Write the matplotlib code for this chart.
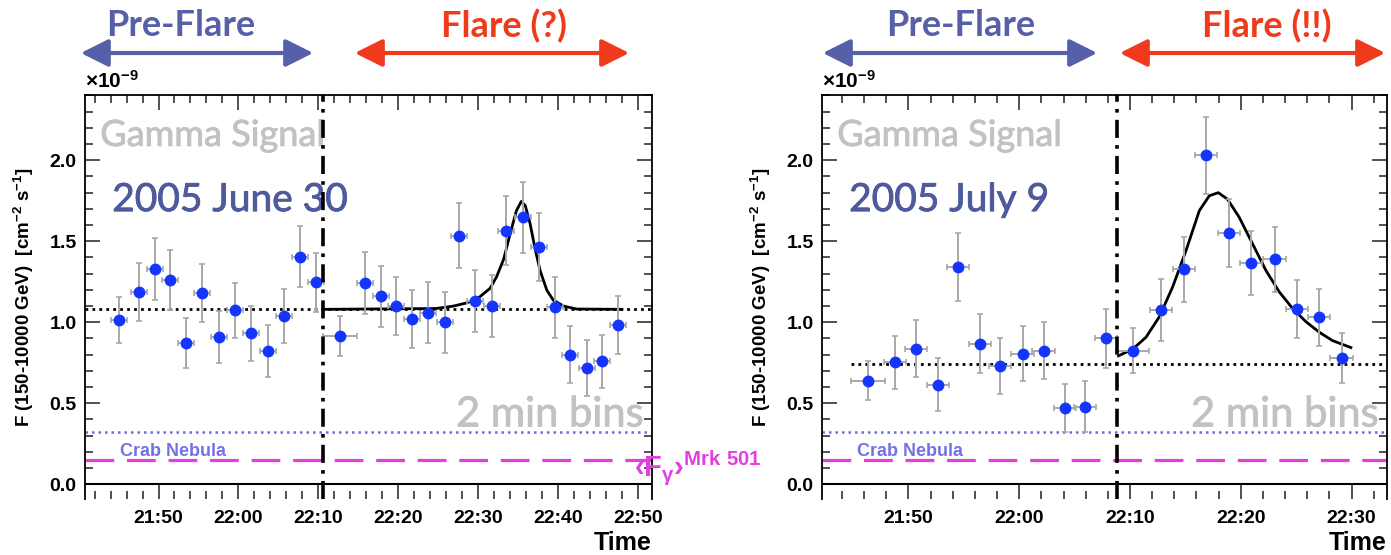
import matplotlib
matplotlib.use("Agg")
import matplotlib.pyplot as plt
import matplotlib.patheffects as pe
from matplotlib.ticker import MultipleLocator, FuncFormatter

plt.rcParams['font.family'] = ['Liberation Sans', 'DejaVu Sans']
plt.rcParams['mathtext.fontset'] = 'custom'
plt.rcParams['mathtext.rm'] = 'Liberation Sans:bold'
plt.rcParams['mathtext.bf'] = 'Liberation Sans:bold'
plt.rcParams['mathtext.it'] = 'Liberation Sans:bold'

# time in minutes after 21:00, flux in 1e-9 cm^-2 s^-1
june_pre_t = [45.0, 47.6, 49.6, 51.4, 53.5, 55.5, 57.6, 59.6, 61.6, 63.7, 65.7, 67.7, 69.75]
june_pre_f = [1.014, 1.185, 1.33, 1.26, 0.871, 1.18, 0.908, 1.075, 0.933, 0.824, 1.039, 1.405, 1.246]
june_pre_err = [0.14, 0.18, 0.19, 0.185, 0.153, 0.18, 0.16, 0.17, 0.17, 0.16, 0.168, 0.187, 0.18]
june_pre_terr = [1.0] * 13

june_flare_t = [72.7, 75.85, 77.8, 79.7, 81.75, 83.7, 85.8, 87.6, 89.6, 91.7, 93.5, 95.6, 97.6,
                99.65, 101.5, 103.6, 105.55, 107.5]
june_flare_f = [0.916, 1.243, 1.16, 1.10, 1.02, 1.06, 1.0, 1.535, 1.13, 1.10, 1.566, 1.648, 1.464,
                1.092, 0.80, 0.718, 0.758, 0.983]
june_flare_err = [0.125, 0.19, 0.19, 0.18, 0.18, 0.19, 0.19, 0.2, 0.19, 0.19, 0.215, 0.22, 0.21,
                  0.19, 0.176, 0.17, 0.165, 0.18]
june_flare_terr = [2.1] + [1.0] * 17

june_fit_t = [70.6, 84.7, 86.9, 88.6, 90.2, 91.5, 92.3, 93.2, 94.0, 94.8, 95.4, 95.9, 96.5, 97.1,
              97.75, 98.6, 99.4, 100.7, 102.3, 108.0]
june_fit_f = [1.08, 1.085, 1.10, 1.12, 1.157, 1.21, 1.28, 1.39, 1.546, 1.69, 1.746, 1.72, 1.61, 1.46,
              1.32, 1.198, 1.137, 1.10, 1.082, 1.08]

july_pre_t = [46.35, 48.8, 50.7, 52.66, 54.5, 56.45, 58.3, 60.3, 62.2, 64.1, 65.95, 67.87]
july_pre_f = [0.64, 0.752, 0.838, 0.615, 1.341, 0.869, 0.73, 0.807, 0.824, 0.47, 0.48, 0.90]
july_pre_err = [0.12, 0.165, 0.175, 0.165, 0.21, 0.185, 0.17, 0.17, 0.175, 0.15, 0.155, 0.18]
july_pre_terr = [1.5] + [1.0] * 11

july_flare_t = [70.24, 72.8, 74.9, 76.86, 78.9, 80.9, 83.05, 85.1, 87.1, 89.1]
july_flare_f = [0.824, 1.075, 1.327, 2.03, 1.55, 1.366, 1.388, 1.083, 1.03, 0.779]
july_flare_err = [0.14, 0.19, 0.2, 0.24, 0.21, 0.2, 0.2, 0.18, 0.175, 0.155]
july_flare_terr = [1.5] + [1.0] * 9

july_fit_t = [68.96, 70.24, 71.45, 72.65, 73.85, 75.06, 76.26, 77.16, 77.97, 78.8, 79.86, 81.06,
              82.27, 83.47, 84.67, 85.88, 87.08, 88.28, 89.94]
july_fit_f = [0.793, 0.834, 0.908, 1.034, 1.218, 1.443, 1.689, 1.781, 1.80, 1.76, 1.648, 1.485,
              1.32, 1.188, 1.086, 1.004, 0.939, 0.887, 0.844]

panels = [
    dict(pre=(june_pre_t, june_pre_f, june_pre_err, june_pre_terr),
         flare=(june_flare_t, june_flare_f, june_flare_err, june_flare_terr),
         fit=(june_fit_t, june_fit_f), base=1.08, base_from=None, split=70.6,
         xlim=(40.8, 111.76), date="2005 June 30", left=85, right=652,
         flare_label="Flare (?)", arrows=((78, 316), (352, 632)), label_x=(181, 504)),
    dict(pre=(july_pre_t, july_pre_f, july_pre_err, july_pre_terr),
         flare=(july_flare_t, july_flare_f, july_flare_err, july_flare_terr),
         fit=(july_fit_t, july_fit_f), base=0.744, base_from=44.85, split=68.83,
         xlim=(42.2, 93.2), date="2005 July 9", left=822, right=1387,
         flare_label="Flare (!!)", arrows=((820, 1100), (1117, 1388)), label_x=(961, 1267)),
]

crab_flux = 0.32
mrk_mean = 0.15

W, H = 1391, 555
fig = plt.figure(figsize=(W / 100, H / 100), dpi=100)

hum = ['Lato', 'DejaVu Sans']


def hhmm(v, pos):
    m = int(round(v))
    return "%d:%02d" % (21 + m // 60, m % 60)


def heavier(col):
    # thicken the regular Lato strokes a little (medium weight look)
    return [pe.withStroke(linewidth=0.6, foreground=col)]


for p in panels:
    top, bot = 95, 499.3
    ax = fig.add_axes([p['left'] / W, 1 - bot / H, (p['right'] - p['left']) / W, (bot - top) / H])
    ax.set_xlim(*p['xlim'])
    ax.set_ylim(-0.0926, 2.403)
    ax.spines['bottom'].set_visible(False)
    for s in ['left', 'right', 'top']:
        ax.spines[s].set_linewidth(1.3)
    ax.axhline(0, color='black', lw=1.5, zorder=2)

    ax.xaxis.set_major_locator(MultipleLocator(10))
    ax.xaxis.set_minor_locator(MultipleLocator(2))
    ax.xaxis.set_major_formatter(FuncFormatter(hhmm))
    ax.yaxis.set_major_locator(MultipleLocator(0.5))
    ax.yaxis.set_minor_locator(MultipleLocator(0.1))
    ax.yaxis.set_major_formatter(FuncFormatter(lambda v, pos: "%.1f" % v))
    ax.tick_params(which='both', direction='in', top=True, right=True, width=1.2, color='#333333')
    ax.tick_params(which='major', length=11)
    ax.tick_params(which='minor', length=5.5)
    ax.tick_params(axis='x', which='major', length=11, pad=8)
    ax.tick_params(axis='y', pad=6)
    for lab in ax.get_xticklabels() + ax.get_yticklabels():
        lab.set_fontweight('bold')
        lab.set_fontsize(14)

    ax.set_ylabel("F (150-10000 GeV)  [cm$^{-2}$ s$^{-1}$]", fontsize=13.5, fontweight='bold', labelpad=10)
    fig.text(p['right'] / W, 1 - 543 / H, "Time", fontsize=18, fontweight='bold', ha='right', va='center')
    ax.text(0.0, 1.008, r"$\times$10$^{-9}$", transform=ax.transAxes, fontsize=15, ha='left',
            va='bottom', fontweight='bold')

    # reference levels
    ax.axhline(crab_flux, color='#6b6bea', lw=1.8, ls=(0, (1, 1.6)), zorder=1)
    ax.axhline(mrk_mean, color='#e23ee2', lw=2.3, ls=(0, (9, 4)), zorder=1)
    ax.text(p['xlim'][0] + 4.4 * (p['xlim'][1] - p['xlim'][0]) / 71, 0.205, "Crab Nebula",
            color='#7272e4', fontsize=13, fontweight='bold', ha='left', va='center')

    if p['base_from'] is None:
        ax.axhline(p['base'], color='black', lw=2, ls=(0, (1, 1.5)), zorder=3)
    else:
        ax.hlines(p['base'], p['base_from'], p['xlim'][1], color='black', lw=2, ls=(0, (1, 1.5)), zorder=3)

    ax.axvline(p['split'], color='black', lw=2.6, ls=(0, (5, 2, 1, 2)), zorder=6)

    for t, f, e, te in (p['pre'], p['flare']):
        ax.errorbar(t, f, yerr=e, xerr=te, fmt='o', color='#1434ff', ms=7.5, ecolor='#a8a8a8',
                    elinewidth=1.4, capsize=2.5, capthick=1.2, zorder=5)
    ax.plot(p['fit'][0], p['fit'][1], color='black', lw=2, zorder=4)

    ax.text(0.027, 0.90, "Gamma Signal", transform=ax.transAxes, fontsize=26, color='#c2c2c2',
            family=hum, ha='left', va='center', zorder=3, path_effects=heavier('#c2c2c2'))
    ax.text(0.048, 0.74, p['date'], transform=ax.transAxes, fontsize=28, color='#4e5a9c',
            family=hum, ha='left', va='center', zorder=3, path_effects=heavier('#4e5a9c'))
    ax.text(0.985, 0.21, "2 min bins", transform=ax.transAxes, fontsize=30, color='#c2c2c2',
            family=hum, ha='right', va='center', zorder=3, path_effects=heavier('#c2c2c2'))

    # period arrows above the panel
    (a0, a1), (b0, b1) = p['arrows']
    specs = (((a0, a1), '#5660a8', "Pre-Flare", p['label_x'][0]),
             ((b0, b1), '#f03a1c', p['flare_label'], p['label_x'][1]))
    for (x0, x1), col, lab, lx in specs:
        fig.patches.append(matplotlib.patches.FancyArrowPatch(
            (x0 / W, 1 - 53 / H), (x1 / W, 1 - 53 / H), transform=fig.transFigure,
            arrowstyle='<|-|>,head_length=1.2,head_width=0.6', mutation_scale=14,
            color=col, lw=3))
        fig.text(lx / W, 1 - 26 / H, lab, color=col, fontsize=26, fontweight='bold',
                 family=['Lato', 'DejaVu Sans'], ha='center', va='center')

fig.text(634 / W, 1 - 468 / H, r"$\mathrm{‹F}_{\gamma}\mathrm{›}^{\mathrm{Mrk\ 501}}$", color='#e23ee2',
         fontsize=21, ha='left', va='center')

fig.savefig("out.png", dpi=100)
